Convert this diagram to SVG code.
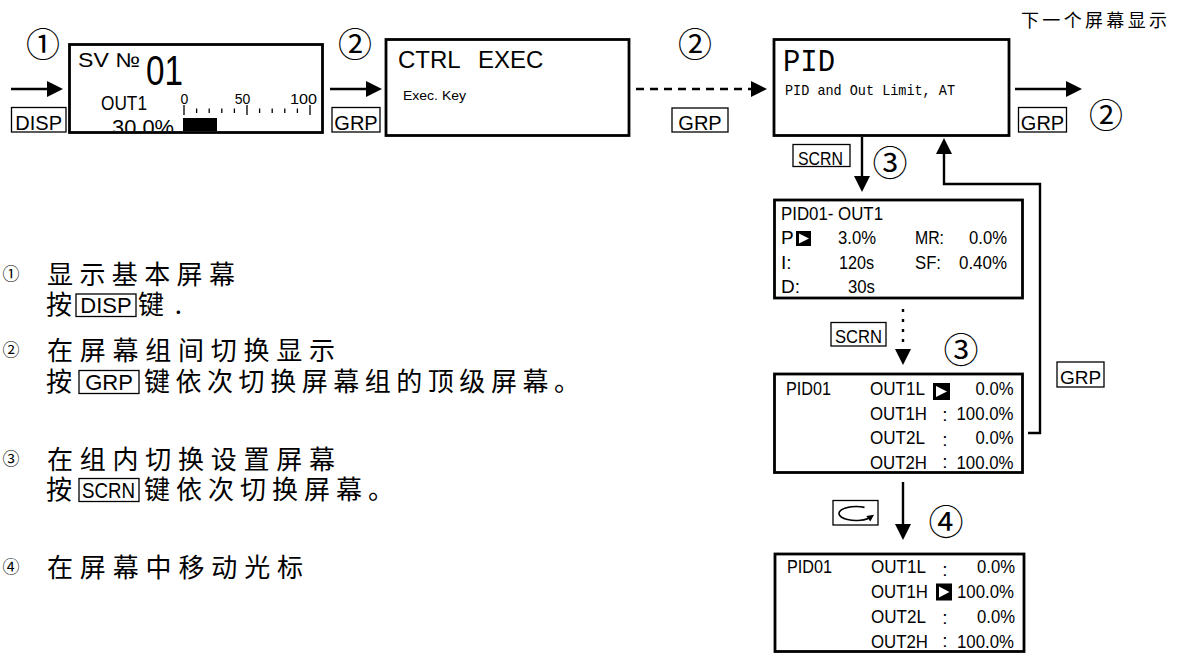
<svg xmlns="http://www.w3.org/2000/svg" width="1177" height="653" viewBox="0 0 1177 653">
<style>
.box{fill:#fff;stroke:#000;stroke-width:2.8}
.key{fill:#fff;stroke:#000;stroke-width:1.3}
.ln{fill:none;stroke:#000;stroke-width:2.4}
.sans{font-family:"Liberation Sans",Arial,sans-serif;fill:#000}
.mono{font-family:"Liberation Mono","Courier New",monospace;fill:#000}
.cjk{font-family:"Noto Sans CJK SC",sans-serif;fill:#000}
.circ{font-family:"Noto Sans CJK SC","DejaVu Sans",sans-serif;fill:#000;text-anchor:middle}
.k20{font-size:20px;text-anchor:middle}
.row{font-size:19px}
.mid{text-anchor:middle}
.leg{font-size:26px}
</style>
<defs>
<marker id="ah" viewBox="0 0 10 10" refX="7.5" refY="5" markerWidth="16" markerHeight="16" markerUnits="userSpaceOnUse" orient="auto">
<path d="M0,0 L10,5 L0,10 z" fill="#000"/>
</marker>
<clipPath id="c1"><rect x="70.9" y="45.9" width="250.2" height="85.2"/></clipPath>
</defs>
<rect width="1177" height="653" fill="#fff"/>

<g id="connectors">
<line class="ln" x1="11" y1="89" x2="59" y2="89" marker-end="url(#ah)"/>
<line class="ln" x1="330" y1="89" x2="378" y2="89" marker-end="url(#ah)"/>
<line class="ln" x1="636" y1="89" x2="763" y2="89" stroke-dasharray="8 6" marker-end="url(#ah)"/>
<line class="ln" x1="1015" y1="89" x2="1078" y2="89" marker-end="url(#ah)"/>
<line class="ln" x1="862" y1="137" x2="862" y2="188" marker-end="url(#ah)"/>
<line class="ln" x1="903" y1="309" x2="903" y2="361" stroke-width="3" stroke-dasharray="3 7" marker-end="url(#ah)"/>
<path class="ln" d="M1028,433 H1040 V184 H944 V142" marker-end="url(#ah)"/>
<line class="ln" x1="903" y1="482" x2="903" y2="536" marker-end="url(#ah)"/>
</g>

<g id="keys">
<rect class="key" x="11.5" y="107.5" width="54.5" height="24.5"/>
<text class="sans k20" x="38.7" y="130">DISP</text>
<rect class="key" x="332" y="107.5" width="48" height="24.5"/>
<text class="sans k20" x="356" y="130">GRP</text>
<rect class="key" x="672" y="108" width="56" height="24"/>
<text class="sans k20" x="700" y="130">GRP</text>
<rect class="key" x="1018.5" y="107.5" width="48" height="24.5"/>
<text class="sans k20" x="1042.5" y="130">GRP</text>
<rect class="key" x="793" y="144.5" width="57" height="22"/>
<text class="sans" x="798" y="164.5" font-size="18" textLength="45" lengthAdjust="spacingAndGlyphs">SCRN</text>
<rect class="key" x="831" y="322.5" width="55" height="23.5"/>
<text class="sans" x="835" y="343" font-size="19" textLength="47" lengthAdjust="spacingAndGlyphs">SCRN</text>
<rect class="key" x="1057" y="362" width="47" height="25"/>
<text class="sans" x="1080.5" y="383.5" font-size="19" text-anchor="middle">GRP</text>
<rect class="key" x="833" y="500.5" width="45" height="24.5"/>
<path d="M864.5,507.4 A17,7 0 1 0 870.7,517" fill="none" stroke="#000" stroke-width="1.6"/>
<polygon points="874,514.7 870.3,521.5 866.3,515.9" fill="#000"/>
</g>

<g id="steps">
<text class="circ" x="43" y="57" font-size="34">①</text>
<text class="circ" x="355" y="57" font-size="34">②</text>
<text class="circ" x="695" y="57" font-size="34">②</text>
<text class="circ" x="1106" y="128" font-size="34">②</text>
<text class="circ" x="890" y="176" font-size="35">③</text>
<text class="circ" x="961" y="363" font-size="35">③</text>
<text class="circ" x="946" y="535" font-size="35">④</text>
</g>

<g id="next-label">
<text class="cjk" x="1021" y="27" font-size="18" textLength="146" lengthAdjust="spacing">下一个屏幕显示</text>
</g>

<g id="screen-basic">
<rect class="box" x="69.5" y="44.5" width="253" height="88" stroke-width="3"/>
<g clip-path="url(#c1)">
<text class="sans" x="78" y="67" font-size="20" textLength="62" lengthAdjust="spacingAndGlyphs">SV №</text>
<text class="sans" x="146" y="85" font-size="43" textLength="37" lengthAdjust="spacingAndGlyphs">01</text>
<text class="sans" x="101" y="110" font-size="21" textLength="46" lengthAdjust="spacingAndGlyphs">OUT1</text>
<text class="sans" x="184.4" y="104" font-size="14" text-anchor="middle">0</text>
<text class="sans" x="242.5" y="104" font-size="14" text-anchor="middle">50</text>
<text class="sans" x="303.5" y="104" font-size="14" text-anchor="middle" textLength="27" lengthAdjust="spacingAndGlyphs">100</text>
<path d="M184,105V115 M196.6,108.5V113 M209.2,108.5V113 M221.8,108.5V113 M234.4,108.5V113 M247,105V115 M259.6,108.5V113 M272.2,108.5V113 M284.8,108.5V113 M297.4,108.5V113 M310,105V115" stroke="#000" stroke-width="1.3" fill="none"/>
<rect x="183" y="118" width="34" height="16" fill="#000"/>
<text class="sans" x="112" y="135" font-size="22" textLength="62" lengthAdjust="spacingAndGlyphs">30.0%</text>
</g>
</g>

<g id="screen-ctrl">
<rect class="box" x="386" y="39.5" width="243" height="96"/>
<text class="sans" x="398" y="68" font-size="24">CTRL <tspan x="478">EXEC</tspan></text>
<text class="sans" x="403" y="100" font-size="12" textLength="63" lengthAdjust="spacingAndGlyphs">Exec. Key</text>
</g>

<g id="screen-pid">
<rect class="box" x="774" y="39.5" width="235" height="96"/>
<text class="mono" x="783" y="71" font-size="32" textLength="52" lengthAdjust="spacingAndGlyphs">PID</text>
<text class="mono" x="785" y="95" font-size="15" textLength="170" lengthAdjust="spacingAndGlyphs">PID and Out Limit, AT</text>
</g>

<g id="screen-pid01-out1">
<rect class="box" x="774.5" y="200" width="248" height="98"/>
<text class="sans row" x="781" y="220" textLength="102" lengthAdjust="spacingAndGlyphs">PID01- OUT1</text>
<text class="sans row" x="781" y="244">P</text>
<rect x="796" y="231" width="15" height="15" fill="#000"/>
<polygon points="799,233.5 809,238.5 799,243.5" fill="#fff"/>
<text class="sans row" x="838" y="244" textLength="38" lengthAdjust="spacingAndGlyphs">3.0%</text>
<text class="sans row" x="915" y="244" textLength="29" lengthAdjust="spacingAndGlyphs">MR:</text>
<text class="sans row" x="969" y="244" textLength="38" lengthAdjust="spacingAndGlyphs">0.0%</text>
<text class="sans row" x="781" y="269">I:</text>
<text class="sans row" x="839" y="269" textLength="35" lengthAdjust="spacingAndGlyphs">120s</text>
<text class="sans row" x="915" y="269" textLength="26" lengthAdjust="spacingAndGlyphs">SF:</text>
<text class="sans row" x="959" y="269" textLength="48" lengthAdjust="spacingAndGlyphs">0.40%</text>
<text class="sans row" x="781" y="293">D:</text>
<text class="sans row" x="848" y="293" textLength="27" lengthAdjust="spacingAndGlyphs">30s</text>
</g>

<g id="screen-pid01-limit-a">
<rect class="box" x="774.5" y="374" width="248" height="98.5"/>
<text class="sans row" x="786" y="395" textLength="45" lengthAdjust="spacingAndGlyphs">PID01</text>
<text class="sans row" x="870" y="395" textLength="55" lengthAdjust="spacingAndGlyphs">OUT1L</text>
<rect x="933" y="383" width="17" height="17" fill="#000"/>
<polygon points="936,386 947,391.5 936,397" fill="#fff"/>
<text class="sans row" x="975.5" y="395" textLength="38" lengthAdjust="spacingAndGlyphs">0.0%</text>
<text class="sans row" x="870" y="419.5" textLength="57" lengthAdjust="spacingAndGlyphs">OUT1H</text>
<text class="sans row mid" x="945" y="421">:</text>
<text class="sans row" x="956.5" y="419.5" textLength="57" lengthAdjust="spacingAndGlyphs">100.0%</text>
<text class="sans row" x="870" y="444" textLength="55" lengthAdjust="spacingAndGlyphs">OUT2L</text>
<text class="sans row mid" x="945" y="445.5">:</text>
<text class="sans row" x="975.5" y="444" textLength="38" lengthAdjust="spacingAndGlyphs">0.0%</text>
<text class="sans row" x="870" y="468.5" textLength="57" lengthAdjust="spacingAndGlyphs">OUT2H</text>
<text class="sans row mid" x="945" y="468">:</text>
<text class="sans row" x="956.5" y="468.5" textLength="57" lengthAdjust="spacingAndGlyphs">100.0%</text>
</g>

<g id="screen-pid01-limit-b">
<rect class="box" x="775" y="554" width="249" height="97.5"/>
<text class="sans row" x="787" y="573" textLength="45" lengthAdjust="spacingAndGlyphs">PID01</text>
<text class="sans row" x="871" y="573" textLength="55" lengthAdjust="spacingAndGlyphs">OUT1L</text>
<text class="sans row mid" x="945" y="576">:</text>
<text class="sans row" x="977" y="573" textLength="38" lengthAdjust="spacingAndGlyphs">0.0%</text>
<text class="sans row" x="871" y="598" textLength="57" lengthAdjust="spacingAndGlyphs">OUT1H</text>
<rect x="936" y="583.5" width="16" height="17" fill="#000"/>
<polygon points="939,586.5 949.5,592 939,597.5" fill="#fff"/>
<text class="sans row" x="957" y="598" textLength="57" lengthAdjust="spacingAndGlyphs">100.0%</text>
<text class="sans row" x="871" y="622.7" textLength="55" lengthAdjust="spacingAndGlyphs">OUT2L</text>
<text class="sans row mid" x="945" y="624">:</text>
<text class="sans row" x="977" y="622.7" textLength="38" lengthAdjust="spacingAndGlyphs">0.0%</text>
<text class="sans row" x="871" y="647.7" textLength="57" lengthAdjust="spacingAndGlyphs">OUT2H</text>
<text class="sans row mid" x="945" y="647">:</text>
<text class="sans row" x="957" y="647.7" textLength="57" lengthAdjust="spacingAndGlyphs">100.0%</text>
</g>

<g id="legend">
<text class="circ" x="11" y="280" font-size="17">①</text>
<text class="cjk leg" x="47" y="284" textLength="188" lengthAdjust="spacing">显示基本屏幕</text>
<text class="cjk leg" x="46" y="314">按</text>
<rect class="key" x="76" y="294" width="60" height="22.5"/>
<text class="sans" x="106" y="313" font-size="22" text-anchor="middle">DISP</text>
<text class="cjk leg" x="138" y="314" textLength="44" lengthAdjust="spacing">键.</text>

<text class="circ" x="11" y="356" font-size="17">②</text>
<text class="cjk leg" x="47" y="360" textLength="288" lengthAdjust="spacing">在屏幕组间切换显示</text>
<text class="cjk leg" x="46" y="391">按</text>
<rect class="key" x="79" y="370.5" width="60" height="23"/>
<text class="sans" x="109" y="390" font-size="22" text-anchor="middle">GRP</text>
<text class="cjk leg" x="144" y="391" textLength="436" lengthAdjust="spacing">键依次切换屏幕组的顶级屏幕。</text>

<text class="circ" x="11" y="465" font-size="17">③</text>
<text class="cjk leg" x="47" y="469" textLength="288" lengthAdjust="spacing">在组内切换设置屏幕</text>
<text class="cjk leg" x="46" y="499">按</text>
<rect class="key" x="79" y="478.5" width="60" height="23"/>
<text class="sans" x="82" y="498" font-size="22" textLength="53" lengthAdjust="spacingAndGlyphs">SCRN</text>
<text class="cjk leg" x="144" y="499" textLength="250" lengthAdjust="spacing">键依次切换屏幕。</text>

<text class="circ" x="11" y="573" font-size="17">④</text>
<text class="cjk leg" x="47" y="577" textLength="256" lengthAdjust="spacing">在屏幕中移动光标</text>
</g>
</svg>
